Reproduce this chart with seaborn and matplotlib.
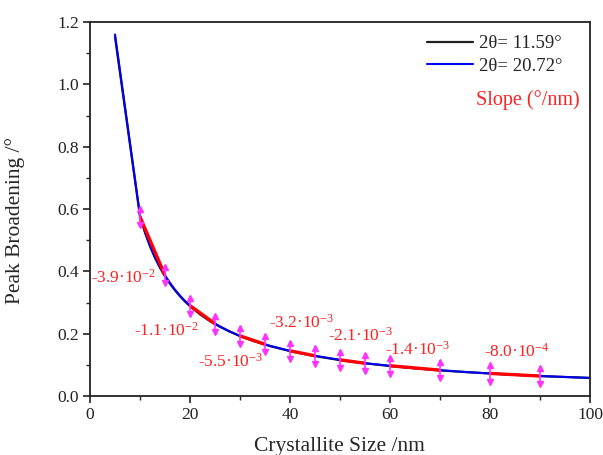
import numpy as np
import pandas as pd
import matplotlib
matplotlib.use("Agg")
import matplotlib.pyplot as plt
import seaborn as sns

# ---- data ----
size_nm = [5, 10, 11, 12, 13, 14, 15, 16, 17, 18, 19, 20, 22, 24, 26, 28, 30, 33, 36,
           40, 45, 50, 55, 60, 65, 70, 75, 80, 85, 90, 95, 100]
broad_2072 = [1.160, 0.580, 0.527, 0.483, 0.446, 0.414, 0.387, 0.363, 0.341, 0.322,
              0.305, 0.290, 0.264, 0.242, 0.223, 0.207, 0.193, 0.176, 0.161,
              0.145, 0.129, 0.116, 0.105, 0.097, 0.089, 0.083, 0.077, 0.0725, 0.068,
              0.064, 0.061, 0.058]
broad_1159 = [1.152, 0.576, 0.524, 0.480, 0.443, 0.411, 0.384, 0.360, 0.339, 0.320,
              0.303, 0.288, 0.262, 0.240, 0.222, 0.206, 0.192, 0.175, 0.160,
              0.144, 0.128, 0.115, 0.105, 0.096, 0.089, 0.082, 0.077, 0.072, 0.068,
              0.064, 0.061, 0.058]
point_x = [10, 15, 20, 25, 30, 35, 40, 45, 50, 55, 60, 70, 80, 90]
point_y = [0.575, 0.387, 0.290, 0.232, 0.193, 0.166, 0.145, 0.129, 0.116, 0.105,
           0.097, 0.083, 0.0725, 0.064]
point_err = 0.032
seg_start = [10, 20, 30, 40, 50, 60, 80]
seg_end = [15, 25, 35, 45, 55, 70, 90]
slope_labels = ["-3.9·10$^{-2}$", "-1.1·10$^{-2}$", "-5.5·10$^{-3}$", "-3.2·10$^{-3}$",
                "-2.1·10$^{-3}$", "-1.4·10$^{-3}$", "-8.0·10$^{-4}$"]
label_x = [6.8, 15.4, 28.2, 42.4, 54.2, 65.6, 85.4]
label_y = [0.38, 0.208, 0.109, 0.234, 0.193, 0.148, 0.141]

sns.set_theme(style="ticks")
plt.rcParams['font.family'] = ['Liberation Serif', 'DejaVu Serif']
plt.rcParams['mathtext.fontset'] = 'custom'
plt.rcParams['mathtext.rm'] = 'Liberation Serif'
plt.rcParams['mathtext.it'] = 'Liberation Serif:italic'

fig = plt.figure(figsize=(6.03, 4.55), dpi=100)
ax = fig.add_axes([90/603, 1-396/455, 500/603, 374/455])

df = pd.DataFrame({"size": size_nm, "b1": broad_1159, "b2": broad_2072})
sns.lineplot(data=df, x="size", y="b1", ax=ax, color="#202020", lw=1.6, label="2θ= 11.59°")
sns.lineplot(data=df, x="size", y="b2", ax=ax, color="#0000ee", lw=1.5, label="2θ= 20.72°")

# linear-fit segments (chords between the measured points)
px = np.array(point_x)
py = np.array(point_y)
for s0, s1 in zip(seg_start, seg_end):
    y0 = py[px == s0][0]
    y1 = py[px == s1][0]
    ax.plot([s0, s1], [y0, y1], color="#ff0000", lw=2.4, zorder=4, solid_capstyle='butt')

mag = "#ff33ff"
ax.errorbar(point_x, point_y, yerr=point_err, fmt='none', ecolor=mag, elinewidth=1.2, zorder=5)
ax.plot(point_x, py + point_err - 0.006, '^', color=mag, ms=4, zorder=6, ls='none')
ax.plot(point_x, py - point_err + 0.006, 'v', color=mag, ms=4, zorder=6, ls='none')

for t, lx, ly in zip(slope_labels, label_x, label_y):
    ax.text(lx, ly, t, color="#ff2020", fontsize=12.5, ha="center", va="center")

ax.set_xlim(0, 100)
ax.set_ylim(0, 1.2)
ax.set_xticks(np.arange(0, 101, 20))
ax.set_xticks(np.arange(10, 100, 20), minor=True)
ax.set_yticks(np.arange(0, 1.21, 0.2))
ax.set_yticks(np.arange(0.1, 1.2, 0.2), minor=True)
ax.yaxis.set_major_formatter(matplotlib.ticker.FormatStrFormatter('%.1f'))
ax.tick_params(which='major', direction='out', length=5, width=1.2, labelsize=12.5,
               colors='#222222', pad=3)
ax.tick_params(which='minor', direction='out', length=3, width=1.0)
for sp in ax.spines.values():
    sp.set_linewidth(1.3)
    sp.set_color("#222222")
ax.set_xlabel("")
ax.set_ylabel("")
fig.text(339/603, 1-447/455, "Crystallite Size /nm", fontsize=15.5, ha="center", va="center")
fig.text(15/603, 1-220/455, "Peak Broadening /°", fontsize=15.5, ha="center", va="center",
         rotation=90)

leg = ax.legend(loc="upper left", bbox_to_anchor=(0.674, 0.965), frameon=False, fontsize=13.5,
                handlelength=2.45, handletextpad=0.3, borderpad=0, borderaxespad=0,
                labelspacing=0.3)
ax.text(0.98, 0.791, "Slope (°/nm)", color="#ff2020", fontsize=14.5, ha="right", va="center",
        transform=ax.transAxes)

fig.savefig("out.png", dpi=100)
